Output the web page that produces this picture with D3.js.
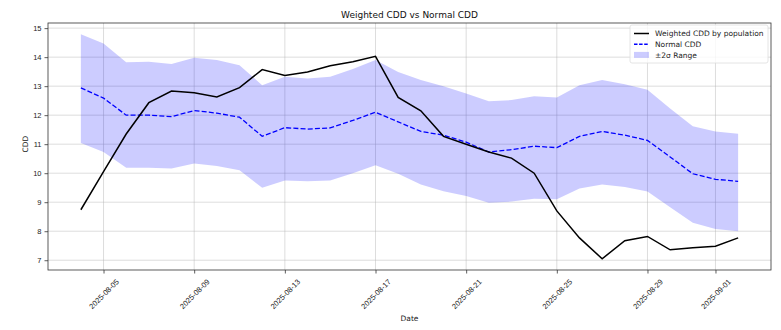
<!DOCTYPE html>
<html>
<head>
<meta charset="utf-8">
<script src="https://cdn.jsdelivr.net/npm/d3@7"></script>
<style>
  body { margin: 0; background: #fff; }
  svg { font-family: "DejaVu Sans", sans-serif; }
</style>
</head>
<body>
<svg id="chart" width="781" height="330"></svg>
<script>
const startDate = "2025-08-04";
const weighted = [8.74, 10.05, 11.35, 12.43, 12.83, 12.77, 12.63, 12.95, 13.57, 13.37,
  13.49, 13.70, 13.84, 14.03, 12.61, 12.15, 11.27, 11.00, 10.73, 10.52,
  10.00, 8.70, 7.77, 7.05, 7.67, 7.82, 7.36, 7.43, 7.48, 7.77];
const normal = [12.94, 12.59, 12.00, 12.00, 11.95, 12.16, 12.07, 11.93, 11.27, 11.57,
  11.52, 11.56, 11.82, 12.10, 11.77, 11.44, 11.31, 11.07, 10.73, 10.81,
  10.93, 10.88, 11.27, 11.44, 11.31, 11.13, 10.56, 9.98, 9.79, 9.72];
const upper = [14.79, 14.47, 13.82, 13.84, 13.76, 13.98, 13.90, 13.72, 13.03, 13.32,
  13.26, 13.32, 13.59, 13.90, 13.49, 13.21, 13.00, 12.75, 12.48, 12.52,
  12.65, 12.61, 13.03, 13.21, 13.07, 12.88, 12.23, 11.62, 11.44, 11.36];
const lower = [11.04, 10.73, 10.19, 10.19, 10.16, 10.33, 10.25, 10.10, 9.50, 9.75,
  9.72, 9.75, 10.00, 10.27, 9.98, 9.61, 9.38, 9.21, 8.98, 9.02,
  9.12, 9.10, 9.47, 9.61, 9.52, 9.37, 8.83, 8.29, 8.08, 8.00];
const xTicks = ["2025-08-05", "2025-08-09", "2025-08-13", "2025-08-17",
  "2025-08-21", "2025-08-25", "2025-08-29", "2025-09-01"];
const yTicks = [7, 8, 9, 10, 11, 12, 13, 14, 15];

const parse = d3.utcParse("%Y-%m-%d");
const day0 = parse(startDate);
const dates = weighted.map((_, i) => d3.utcDay.offset(day0, i));
const rows = dates.map((d, i) => ({ date: d, w: weighted[i], n: normal[i], hi: upper[i], lo: lower[i] }));

const margin = { top: 23, right: 10, bottom: 60, left: 48 };
const width = 781 - margin.left - margin.right,
  height = 330 - margin.top - margin.bottom;

const svg = d3.select("#chart");
const g = svg.append("g").attr("transform", "translate(" + margin.left + "," + margin.top + ")");

// matplotlib style 5% margins
const t0 = dates[0].getTime(), t1 = dates[dates.length - 1].getTime();
const padX = (t1 - t0) * 0.05;
const x = d3.scaleUtc().domain([new Date(t0 - padX), new Date(t1 + padX)]).range([0, width]);

const allY = upper.concat(lower, weighted, normal);
const yMin = d3.min(allY), yMax = d3.max(allY), padY = (yMax - yMin) * 0.05;
const y = d3.scaleLinear().domain([yMin - padY, yMax + padY]).range([height, 0]);

// grid
g.append("g").selectAll("line").data(yTicks).enter().append("line")
  .attr("x1", 0).attr("x2", width)
  .attr("y1", d => y(d)).attr("y2", d => y(d))
  .attr("stroke", "#b0b0b0").attr("stroke-opacity", 0.55).attr("stroke-width", 0.8);
g.append("g").selectAll("line").data(xTicks).enter().append("line")
  .attr("x1", d => x(parse(d))).attr("x2", d => x(parse(d)))
  .attr("y1", 0).attr("y2", height)
  .attr("stroke", "#b0b0b0").attr("stroke-opacity", 0.55).attr("stroke-width", 0.8);

// band
g.append("path").datum(rows)
  .attr("fill", "#0000ff").attr("fill-opacity", 0.2)
  .attr("d", d3.area().x(d => x(d.date)).y0(d => y(d.lo)).y1(d => y(d.hi)));

g.append("path").datum(rows)
  .attr("fill", "none").attr("stroke", "#0000ff").attr("stroke-width", 1.3)
  .attr("stroke-dasharray", "5,2.2")
  .attr("d", d3.line().x(d => x(d.date)).y(d => y(d.n)));

g.append("path").datum(rows)
  .attr("fill", "none").attr("stroke", "#000").attr("stroke-width", 1.5)
  .attr("d", d3.line().x(d => x(d.date)).y(d => y(d.w)));

// axes
const xAxis = g.append("g").attr("transform", "translate(0," + height + ")")
  .call(d3.axisBottom(x).tickValues(xTicks.map(parse)).tickFormat(d3.utcFormat("%Y-%m-%d"))
    .tickSize(3.5).tickSizeOuter(0));
xAxis.selectAll("text")
  .attr("text-anchor", "middle")
  .attr("dx", "0").attr("dy", "0.35em").attr("y", 0)
  .attr("transform", "translate(0,24) rotate(-45)");

const yAxis = g.append("g")
  .call(d3.axisLeft(y).tickValues(yTicks).tickSize(3.5).tickSizeOuter(0).tickPadding(3));

[xAxis, yAxis].forEach(a => {
  a.select(".domain").remove();
  a.selectAll("line").attr("stroke", "#333").attr("stroke-width", 0.8);
  a.selectAll("text").attr("fill", "#222").style("font-size", "7.5px");
});

g.append("rect").attr("width", width).attr("height", height)
  .attr("fill", "none").attr("stroke", "#333").attr("stroke-width", 0.8);

// labels
svg.append("text").attr("x", margin.left + width / 2).attr("y", 18)
  .attr("text-anchor", "middle").style("font-size", "9px").attr("fill", "#111")
  .text("Weighted CDD vs Normal CDD");
svg.append("text").attr("x", margin.left + width / 2).attr("y", 321)
  .attr("text-anchor", "middle").style("font-size", "7.5px").attr("fill", "#222")
  .text("Date");
svg.append("text").attr("transform", "translate(28," + (margin.top + y(11)) + ") rotate(-90)")
  .attr("text-anchor", "middle").style("font-size", "7.5px").attr("fill", "#222")
  .text("CDD");

// legend
const legend = svg.append("g").attr("transform", "translate(630,25)");
legend.append("rect").attr("width", 138).attr("height", 38).attr("rx", 2)
  .attr("fill", "#fff").attr("fill-opacity", 0.8).attr("stroke", "#ddd").attr("stroke-width", 0.8);
const items = [
  { label: "Weighted CDD by population", type: "solid" },
  { label: "Normal CDD", type: "dash" },
  { label: "\u00b12\u03c3 Range", type: "band" }
];
items.forEach((it, i) => {
  const yy = 8.5 + i * 10.7;
  const row = legend.append("g").attr("transform", "translate(0," + yy + ")");
  if (it.type === "band") {
    row.append("rect").attr("x", 4).attr("y", -3).attr("width", 15).attr("height", 6)
      .attr("fill", "#0000ff").attr("fill-opacity", 0.2);
  } else {
    row.append("line").attr("x1", 4).attr("x2", 19).attr("y1", 0).attr("y2", 0)
      .attr("stroke", it.type === "solid" ? "#000" : "#0000ff").attr("stroke-width", 1.5)
      .attr("stroke-dasharray", it.type === "dash" ? "3.5,1.6" : null);
  }
  row.append("text").attr("x", 25).attr("y", 2.7).style("font-size", "7.5px").attr("fill", "#222")
    .text(it.label);
});
</script>
</body>
</html>
